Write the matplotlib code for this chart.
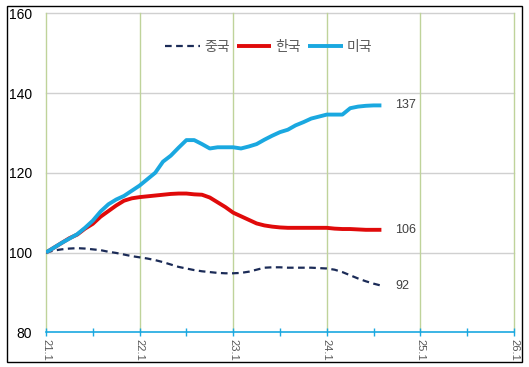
import matplotlib
matplotlib.use("Agg")
import matplotlib.pyplot as plt
from matplotlib.patches import Rectangle
import numpy as np

plt.rcParams['font.family'] = ['Liberation Sans', 'Noto Sans CJK KR', 'DejaVu Sans']

# Monthly index values, 2021.1 = 100 (21.1 .. 24.8)
china = [100, 100.5, 100.8, 101, 101.1, 101, 100.8, 100.6, 100.2, 99.9,
         99.5, 99.1, 98.8, 98.5, 98.1, 97.6, 97.0, 96.4, 96.0, 95.6,
         95.3, 95.1, 94.9, 94.8, 94.8, 94.9, 95.2, 95.7, 96.2, 96.3,
         96.3, 96.2, 96.2, 96.2, 96.2, 96.1, 96.0, 95.7, 95.1, 94.3,
         93.5, 92.8, 92.2, 91.7]
korea = [100, 101.2, 102.4, 103.6, 104.5, 106.0, 107.2, 109.0, 110.4, 111.8,
         113.0, 113.6, 113.9, 114.1, 114.3, 114.5, 114.7, 114.8, 114.8, 114.6,
         114.5, 113.8, 112.6, 111.4, 110.0, 109.1, 108.2, 107.3, 106.8, 106.5,
         106.3, 106.2, 106.2, 106.2, 106.2, 106.2, 106.2, 106.0, 105.9, 105.9,
         105.8, 105.7, 105.7, 105.7]
usa = [100, 101.2, 102.4, 103.5, 104.6, 106.2, 108.0, 110.3, 112.1, 113.3,
       114.2, 115.5, 116.8, 118.4, 120.0, 122.8, 124.3, 126.3, 128.2, 128.2,
       127.2, 126.1, 126.4, 126.4, 126.4, 126.1, 126.6, 127.2, 128.3, 129.3,
       130.2, 130.8, 131.9, 132.7, 133.6, 134.1, 134.6, 134.6, 134.6, 136.2,
       136.6, 136.8, 136.9, 136.9]
series_names = ['중국', '한국', '미국']
end_labels = ['92', '106', '137']
x_tick_labels = ['21.1', '22.1', '23.1', '24.1', '25.1', '26.1']
y_ticks = [80, 100, 120, 140, 160]

W, H = 529, 367
fig = plt.figure(figsize=(W / 100, H / 100), dpi=100)

# outer border
fig.patches.append(Rectangle((7 / W, 1 - 361.7 / H), (521.7 - 7) / W, (361.7 - 6) / H,
                             transform=fig.transFigure, fill=False,
                             edgecolor='black', linewidth=1.0))

ax = fig.add_axes([46 / W, 1 - 332.3 / H, (514 - 46) / W, (332.3 - 13.3) / H])

months = np.arange(len(usa))
c_china = '#1b2b57'
c_korea = '#e00a0a'
c_usa = '#1aa8e0'

ax.plot(months, china, color=c_china, lw=1.6, ls=(0, (3, 2)), label=series_names[0], zorder=3)
ax.plot(months, korea, color=c_korea, lw=2.8, label=series_names[1], zorder=4,
        solid_capstyle='butt', solid_joinstyle='round')
ax.plot(months, usa, color=c_usa, lw=2.8, label=series_names[2], zorder=5,
        solid_capstyle='butt', solid_joinstyle='round')

for vals, lab in zip([china, korea, usa], end_labels):
    ax.annotate(lab, xy=(months[-1], vals[-1]), xytext=(10, 0), textcoords='offset points',
                va='center', ha='left', fontsize=9, color='#404040')

ax.set_xlim(0, 60)
ax.set_ylim(80, 160)

ax.set_yticks(y_ticks)
ax.set_yticklabels([str(v) for v in y_ticks], fontsize=10, color='black')
ax.tick_params(axis='y', length=0, pad=10)

ax.set_xticks(np.arange(0, 61, 12))
ax.set_xticklabels(x_tick_labels, rotation=-90, fontsize=8, color='#595959')
ax.set_xticks(np.arange(6, 61, 12), minor=True)
ax.tick_params(axis='x', which='both', direction='inout', length=6, width=1,
               color=c_usa, pad=2)

for v in y_ticks[1:]:
    ax.axhline(v, color='#d0d0d0', lw=1, zorder=1, clip_on=False)
for m in range(0, 61, 12):
    ax.axvline(m, color='#bfd39a', lw=1, zorder=1, clip_on=False)

for s in ['top', 'right', 'left']:
    ax.spines[s].set_visible(False)
ax.spines['bottom'].set_color(c_usa)
ax.spines['bottom'].set_linewidth(1.2)
ax.spines['bottom'].set_zorder(6)

leg = ax.legend(loc='upper center', bbox_to_anchor=(0.476, 0.955), ncol=3, frameon=False,
                fontsize=10, handlelength=2.5, columnspacing=0.5, handletextpad=0.3)
for t in leg.get_texts():
    t.set_color('#595959')

fig.savefig('out.png', dpi=100)
